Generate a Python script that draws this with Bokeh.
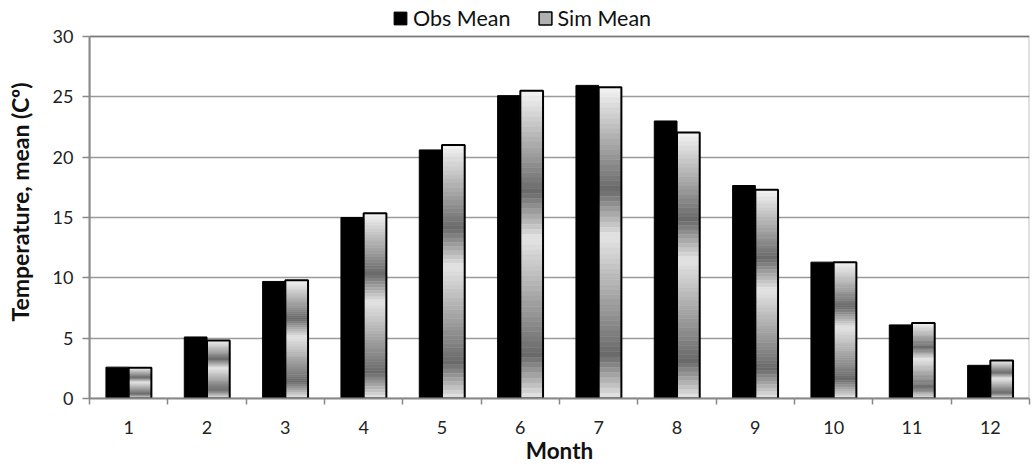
import numpy as np
from bokeh.plotting import figure
from bokeh.models import (FixedTicker, Legend, LegendItem, ColumnDataSource, Range1d, BoxAnnotation)
from bokeh.embed import file_html
from bokeh.resources import INLINE

months = [1, 2, 3, 4, 5, 6, 7, 8, 9, 10, 11, 12]
month_labels = ["1", "2", "3", "4", "5", "6", "7", "8", "9", "10", "11", "12"]
obs_mean = [2.6, 5.1, 9.7, 15.0, 20.6, 25.1, 25.95, 23.0, 17.65, 11.3, 6.1, 2.75]
sim_mean = [2.55, 4.8, 9.8, 15.35, 21.0, 25.5, 25.8, 22.05, 17.3, 11.3, 6.25, 3.15]
y_ticks = [0, 5, 10, 15, 20, 25, 30]
Y_MAX = 30

FONT = "Lato"
BAR_W = 0.29
OFF = 0.145

# extra headroom above the axis maximum holds the legend
p = figure(frame_width=940, frame_height=393,
           output_backend="svg", toolbar_location=None,
           x_range=Range1d(0.5, 12.5), y_range=Range1d(0, 32.57),
           min_border_left=89, min_border_right=2, min_border_top=5, min_border_bottom=58)
p.background_fill_color = "white"
p.border_fill_color = "white"
p.outline_line_color = None

# grid
p.xgrid.grid_line_color = None
p.ygrid.grid_line_color = "#9a9a9a"
p.ygrid.grid_line_width = 1.6
p.ygrid.ticker = FixedTicker(ticks=y_ticks)

# plot-area border (top and right visible dark; left/bottom covered by axes)
box = BoxAnnotation(left=0.5, right=12.5, bottom=0, top=Y_MAX, fill_alpha=0,
                    line_color="#333333", line_width=2, level="underlay")
p.add_layout(box)

# obs bars
xo = [m - OFF for m in months]
obs_r = p.vbar(x=xo, top=obs_mean, width=BAR_W, fill_color="black", line_color="black", line_width=1)

# sim bars with vertical gradient built from slices
stops_f = [0.0, 0.33, 0.48, 0.86, 1.0]
stops_c = [245, 105, 228, 105, 230]
n = 60
sx, sb, st, sc = [], [], [], []
for m, v in zip(months, sim_mean):
    for k in range(n):
        f0 = k / n
        f1 = (k + 1) / n
        fm = (f0 + f1) / 2
        g = int(round(np.interp(fm, stops_f, stops_c)))
        sx.append(m + OFF)
        st.append(v * (1 - f0))
        sb.append(v * (1 - f1))
        sc.append("#%02x%02x%02x" % (g, g, g))
src = ColumnDataSource(dict(x=sx, top=st, bottom=sb, color=sc))
p.vbar(x="x", top="top", bottom="bottom", width=BAR_W, fill_color="color", line_color="color",
       line_width=0.5, source=src)
xs = [m + OFF for m in months]
p.vbar(x=xs, top=sim_mean, width=BAR_W, fill_alpha=0, line_color="black", line_width=2)
sim_leg = p.vbar(x=[-5], top=[0], width=BAR_W, fill_color="#b0b0b0", line_color="black", line_width=1.5)

# axes
xa = p.xaxis[0]
xa.ticker = FixedTicker(ticks=months, minor_ticks=[m - 0.5 for m in months] + [12.5])
xa.major_label_overrides = {m: l for m, l in zip(months, month_labels)}
xa.major_tick_line_color = None
xa.minor_tick_out = 6
xa.minor_tick_in = 0
xa.minor_tick_line_color = "#888888"
xa.minor_tick_line_width = 1.5
xa.axis_line_color = "#888888"
xa.axis_line_width = 2
xa.major_label_standoff = 16
xa.major_label_text_font = FONT
xa.major_label_text_font_size = "18px"
xa.major_label_text_color = "#222222"
xa.axis_label = "Month"
xa.axis_label_text_font = FONT
xa.axis_label_text_font_style = "bold"
xa.axis_label_text_font_size = "22.5px"
xa.axis_label_text_color = "#111111"
xa.axis_label_standoff = 0

ya = p.yaxis[0]
ya.ticker = FixedTicker(ticks=y_ticks)
ya.bounds = (0, Y_MAX)
ya.minor_tick_line_color = None
ya.major_tick_out = 7
ya.major_tick_in = 0
ya.major_tick_line_color = "#888888"
ya.major_tick_line_width = 1.5
ya.axis_line_color = "#888888"
ya.axis_line_width = 2
ya.major_label_standoff = 9
ya.major_label_text_font = FONT
ya.major_label_text_font_size = "18px"
ya.major_label_text_color = "#222222"
ya.axis_label = "Temperature, mean (Cº)"
ya.axis_label_text_font = FONT
ya.axis_label_text_font_style = "bold"
ya.axis_label_text_font_size = "23px"
ya.axis_label_text_color = "#111111"
ya.axis_label_standoff = 16

legend = Legend(items=[LegendItem(label="Obs Mean", renderers=[obs_r]),
                       LegendItem(label="Sim Mean", renderers=[sim_leg])],
                orientation="horizontal", location=(303, 367),
                border_line_color=None, background_fill_alpha=0,
                label_text_font=FONT, label_text_font_size="21.5px", label_text_color="#111111",
                glyph_width=16, glyph_height=16, spacing=26, label_standoff=5,
                padding=1, margin=0)
p.add_layout(legend)

open("out.html", "w").write(file_html(p, INLINE))
